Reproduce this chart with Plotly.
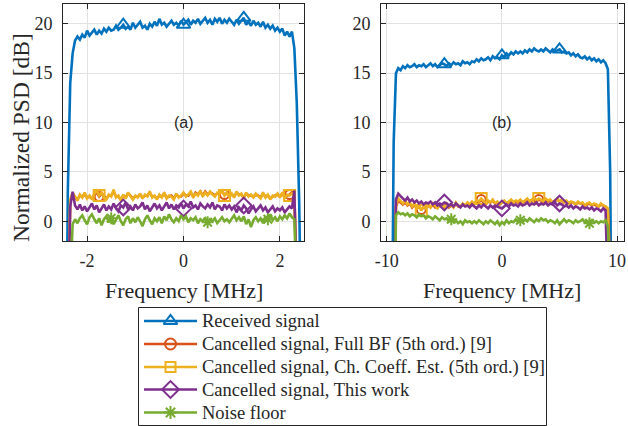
import numpy as np
import plotly.graph_objects as go

# ---------------- data ----------------
freq_a = np.round(np.arange(-2.5, 2.5001, 0.05), 2)   # panel (a) frequency grid [MHz]
freq_b = np.round(np.arange(-10.4, 10.6001, 0.2), 1)  # panel (b) frequency grid [MHz]

recv_a = [-30, -25, 3, 14, 17, 18.3, 18.7, 18.4, 18.9, 18.6,
          19.3, 18.8, 19.1, 19.4, 18.9, 19.3, 19.0, 19.5, 19.2, 19.6,
          19.3, 19.4, 19.8, 19.4, 19.6, 19.9, 19.5, 19.7, 19.4, 20.1,
          19.6, 19.9, 20.2, 19.6, 19.8, 19.4, 20.0, 19.7, 20.2, 19.8,
          20.5, 19.9, 20.1, 19.7, 20.0, 20.3, 19.9, 20.1, 19.8, 20.3,
          19.9, 20.2, 20.4, 19.9, 20.3, 20.1, 20.5, 20.0, 20.3, 20.6,
          20.1, 20.4, 19.9, 20.5, 20.2, 20.6, 20.0, 20.4, 20.1, 20.5,
          20.2, 19.9, 20.4, 20.0, 20.3, 20.6, 19.9, 20.2, 19.8, 20.3,
          19.9, 20.1, 19.7, 20.2, 19.6, 19.9, 19.5, 19.8, 19.3, 19.6,
          19.2, 19.5, 18.8, 19.2, 18.7, 19.2, 17.5, 12, 2, -25,
          -30]
fullbf_a = [-30, -25, -10, 2.0, 2.8, 2.4, 2.2, 2.6, 2.5, 2.7,
            2.4, 2.5, 2.3, 2.7, 2.9, 2.5, 2.8, 2.5, 2.3, 2.6,
            2.6, 3.0, 2.5, 2.5, 2.2, 2.6, 2.4, 2.8, 2.6, 2.3,
            2.5, 2.5, 2.7, 2.4, 2.6, 2.6, 2.9, 2.5, 2.5, 2.3,
            2.6, 2.5, 2.8, 2.4, 2.5, 2.6, 2.3, 2.7, 2.5, 2.5,
            2.8, 2.6, 2.6, 2.9, 2.5, 2.9, 2.7, 3.0, 2.6, 3.0,
            2.7, 2.9, 2.8, 2.6, 2.8, 2.9, 3.0, 2.7, 2.8, 2.6,
            2.7, 2.5, 2.9, 2.7, 2.7, 2.4, 2.8, 2.6, 2.6, 2.5,
            2.7, 2.6, 2.4, 2.8, 2.5, 2.6, 2.3, 2.5, 2.6, 2.7,
            2.5, 2.8, 2.4, 2.6, 2.7, 2.9, 2.6, -8, -25, -30,
            -30]
chcoef_a = [-30, -25, -10, 2.2, 2.9, 2.5, 2.1, 2.7, 2.4, 2.9,
            2.3, 2.6, 2.2, 2.8, 3.1, 2.6, 2.9, 2.4, 2.2, 2.7,
            2.5, 3.2, 2.4, 2.6, 2.1, 2.7, 2.3, 2.9, 2.5, 2.2,
            2.6, 2.4, 2.8, 2.3, 2.7, 2.5, 3.0, 2.4, 2.6, 2.2,
            2.7, 2.4, 2.9, 2.3, 2.6, 2.5, 2.2, 2.8, 2.4, 2.6,
            2.9, 2.5, 2.7, 3.0, 2.4, 2.8, 2.6, 3.1, 2.5, 2.9,
            2.6, 3.0, 2.7, 2.5, 2.9, 2.8, 3.1, 2.6, 2.9, 2.5,
            2.8, 2.4, 3.0, 2.6, 2.8, 2.3, 2.9, 2.5, 2.7, 2.4,
            2.8, 2.5, 2.3, 2.9, 2.4, 2.7, 2.2, 2.6, 2.5, 2.8,
            2.4, 2.9, 2.3, 2.7, 2.6, 2.8, 2.5, -8, -25, -30,
            -30]
thiswork_a = [-30, -25, -10, 1.5, 3.0, 1.6, 1.2, 1.7, 1.1, 1.5,
              1.0, 1.4, 1.8, 1.2, 1.6, 0.9, 1.3, 1.7, 1.1, 1.5,
              1.2, 1.8, 1.3, 1.0, 1.6, 1.4, 1.9, 1.2, 1.5, 1.1,
              1.7, 1.3, 1.5, 1.9, 1.2, 1.6, 1.0, 1.4, 1.8, 1.3,
              1.6, 1.1, 1.5, 1.9, 1.3, 1.7, 1.2, 1.6, 1.4, 1.8,
              1.3, 1.7, 1.5, 2.0, 1.4, 1.6, 1.2, 1.8, 1.5, 1.3,
              1.7, 1.4, 1.9, 1.2, 1.6, 1.5, 1.1, 1.7, 1.3, 1.6,
              1.2, 1.5, 0.9, 1.4, 1.1, 1.6, 1.3, 0.8, 1.2, 1.5,
              1.0, 1.3, 1.6, 1.1, 1.4, 0.9, 1.2, 1.5, 1.0, 1.3,
              1.1, 1.4, 0.9, 1.2, 1.5, 1.3, 3.1, -8, -25, -30,
              -30]
noise_a = [-30, -25, -20, -6, -0.3, 0.2, -0.2, 0.3, 0.6, 0.1,
           -0.3, 0.4, 0.7, 0.2, -0.2, 0.3, -0.4, 0.2, 0.5, -0.1,
           0.3, -0.3, 0.1, 0.6, 0.0, -0.4, 0.2, 0.5, -0.2, 0.3,
           -0.1, 0.4, 0.0, -0.5, 0.2, 0.6, 0.1, -0.3, 0.3, 0.0,
           0.4, -0.2, 0.5, 0.1, 0.7, 0.2, -0.1, 0.3, 0.0, 0.6,
           0.2, 0.5, -0.1, 0.3, 0.1, 0.4, -0.2, 0.2, 0.0, 0.3,
           -0.1, 0.2, 0.0, 0.3, -0.2, 0.1, 0.4, 0.0, 0.2, -0.1,
           0.3, 0.6, 0.1, 0.4, 0.0, 0.5, -0.3, 0.2, -0.6, 0.1,
           0.4, 0.0, 0.3, -0.2, 0.5, 0.2, 0.7, 0.1, 0.4, 0.0,
           0.5, 0.2, 0.6, 0.3, 0.8, 0.4, 0.2, -8, -25, -30,
           -30]

recv_b = [-30, -30, -30, -30, -20, 8, 15.0, 15.5, 15.3, 15.7,
          15.5, 15.8, 15.6, 15.7, 15.9, 15.6, 15.8, 15.7, 15.9, 15.6,
          15.8, 16.0, 15.7, 15.9, 15.6, 15.8, 16.0, 15.9, 15.7, 16.0,
          15.8, 16.1, 15.9, 16.0, 15.8, 16.2, 16.0, 16.1, 15.9, 16.2,
          16.1, 16.4, 16.2, 16.5, 16.3, 16.4, 16.6, 16.3, 16.7, 16.5,
          16.6, 16.4, 16.8, 16.6, 17.0, 16.8, 17.1, 16.9, 17.2, 17.0,
          17.2, 17.0, 17.3, 17.1, 17.4, 17.2, 17.5, 17.3, 17.2, 17.4,
          17.2, 17.5, 17.3, 17.1, 17.4, 17.2, 17.3, 17.4, 17.1, 17.2,
          17.0, 17.1, 16.8, 17.0, 16.7, 16.9, 16.6, 16.5, 16.7, 16.4,
          16.6, 16.3, 16.5, 16.2, 16.4, 16.1, 16.3, 16.0, 15.4, 5,
          -25, -30, -30, -30, -30, -30]
fullbf_b = [-30, -30, -30, -30, -30, -10, 1.5, 2.1, 1.9, 1.7,
            1.9, 1.6, 1.8, 1.4, 1.7, 1.3, 1.5, 1.2, 1.4, 1.3,
            1.6, 1.4, 1.7, 1.4, 1.4, 1.6, 1.5, 1.5, 1.7, 1.4,
            1.6, 1.5, 1.8, 1.5, 1.5, 1.7, 1.6, 1.8, 1.6, 1.9,
            1.7, 2.0, 1.9, 2.2, 1.9, 1.8, 2.0, 1.9, 2.1, 1.8,
            1.9, 1.7, 1.9, 2.0, 1.8, 1.9, 2.1, 1.9, 2.0, 1.9,
            2.1, 1.9, 2.0, 2.2, 2.0, 2.1, 2.3, 2.0, 2.2, 2.1,
            2.0, 2.2, 2.0, 2.1, 1.9, 2.0, 2.2, 2.0, 2.1, 1.9,
            2.0, 1.8, 1.9, 1.9, 1.7, 1.9, 1.8, 1.8, 1.6, 1.7,
            1.8, 1.6, 1.7, 1.6, 1.5, 1.7, 1.6, 1.5, 1.2, -15,
            -30, -30, -30, -30, -30, -30]
chcoef_b = [-30, -30, -30, -30, -30, -10, 1.6, 2.3, 2.0, 1.8,
            2.1, 1.7, 1.9, 1.5, 1.8, 1.2, 1.6, 1.1, 1.5, 1.3,
            1.7, 1.4, 1.8, 1.5, 1.3, 1.7, 1.6, 1.4, 1.8, 1.5,
            1.7, 1.4, 1.9, 1.6, 1.5, 1.8, 1.6, 1.9, 1.7, 2.0,
            1.8, 2.1, 2.0, 2.3, 2.0, 1.8, 2.1, 1.9, 2.2, 1.8,
            2.0, 1.7, 1.9, 2.1, 1.8, 2.0, 2.2, 1.9, 2.1, 2.0,
            2.2, 1.9, 2.1, 2.3, 2.0, 2.2, 2.4, 2.1, 2.3, 2.2,
            2.0, 2.3, 2.1, 2.2, 1.9, 2.1, 2.3, 2.0, 2.2, 1.9,
            2.1, 1.8, 2.0, 1.9, 1.7, 2.0, 1.8, 1.9, 1.6, 1.8,
            1.9, 1.6, 1.8, 1.7, 1.5, 1.8, 1.6, 1.5, 1.3, -15,
            -30, -30, -30, -30, -30, -30]
thiswork_b = [-30, -30, -30, -30, -30, -10, 2.2, 2.8, 2.5, 2.3,
              2.1, 2.4, 2.0, 2.2, 1.9, 2.1, 1.8, 2.0, 1.7, 1.9,
              1.8, 2.0, 1.7, 1.9, 1.6, 1.8, 1.7, 1.9, 1.8, 1.6,
              1.7, 1.5, 1.8, 1.6, 1.4, 1.7, 1.5, 1.6, 1.4, 1.7,
              1.5, 1.3, 1.6, 1.4, 1.7, 1.5, 1.3, 1.6, 1.4, 1.6,
              1.5, 1.4, 1.3, 1.5, 1.7, 1.5, 1.8, 1.6, 1.7, 1.5,
              1.8, 1.6, 1.7, 1.9, 1.6, 1.8, 1.7, 1.9, 1.6, 1.8,
              1.7, 1.9, 1.6, 1.8, 1.7, 1.9, 1.6, 1.8, 1.7, 1.5,
              1.6, 1.4, 1.6, 1.3, 1.5, 1.4, 1.2, 1.5, 1.3, 1.4,
              1.2, 1.4, 1.1, 1.3, 1.2, 1.0, 1.3, 1.1, -3, -15,
              -30, -30, -30, -30, -30, -30]
noise_b = [-30, -30, -30, -30, -30, -15, 0.6, 0.9, 0.7, 0.8,
           0.6, 0.8, 0.5, 0.7, 0.6, 0.4, 0.7, 0.5, 0.6, 0.3,
           0.5, 0.4, 0.2, 0.5, 0.3, 0.1, 0.4, 0.2, 0.3, 0.0,
           0.2, -0.1, 0.1, -0.2, 0.0, -0.3, 0.1, -0.1, 0.0, -0.2,
           0.0, -0.2, 0.1, -0.1, -0.3, 0.0, -0.2, 0.1, -0.1, -0.3,
           0.0, -0.4, -0.1, -0.3, 0.1, -0.2, 0.0, -0.1, 0.2, -0.1,
           0.1, -0.1, 0.2, 0.0, 0.3, 0.1, -0.1, 0.2, 0.0, 0.3,
           0.1, 0.2, -0.1, 0.1, 0.0, -0.2, 0.1, -0.3, 0.0, 0.2,
           -0.1, 0.1, 0.0, -0.2, 0.1, -0.1, 0.0, 0.2, -0.1, 0.0,
           -0.2, 0.1, -0.1, 0.0, -0.2, 0.0, -0.1, 0.1, -0.5, -20,
           -30, -30, -30, -30, -30, -30]

# marker sample indices (MATLAB MarkerIndices)
mk_tri_a = [25, 50, 75]
mk_tri_b = [27, 52, 77]
mk_sq_a = [15, 67, 94]
mk_sq_b = [17, 43, 68]
mk_ast_a = [20, 60, 85]
mk_ast_b = [30, 60, 90]

series_names = ["Received signal",
                "Cancelled signal, Full BF (5th ord.) [9]",
                "Cancelled signal, Ch. Coeff. Est. (5th ord.) [9]",
                "Cancelled signal, This work",
                "Noise floor"]
x_ticks_a = [-2, 0, 2]
x_ticks_b = [-10, 0, 10]
y_ticks = [0, 5, 10, 15, 20]

for arr in (recv_a, fullbf_a, chcoef_a, thiswork_a, noise_a):
    assert len(arr) == len(freq_a)
for arr in (recv_b, fullbf_b, chcoef_b, thiswork_b, noise_b):
    assert len(arr) == len(freq_b)

# ---------------- style ----------------
colors = ["#0072BD", "#D95319", "#EDB120", "#7E2F8E", "#77AC30"]
symbols = ["triangle-up-open", "circle-open", "square-open", "diamond-open", "asterisk-open"]
msizes = [12, 9, 11, 12, 10]
leg_msizes = [12, 11, 10, 13, 11]
LW = 2.6
SERIF = "Liberation Serif"
AX = "#262626"
W, H = 628, 426

data_a = [recv_a, fullbf_a, chcoef_a, thiswork_a, noise_a]
data_b = [recv_b, fullbf_b, chcoef_b, thiswork_b, noise_b]
mk_a = [mk_tri_a, mk_sq_a, mk_sq_a, mk_tri_a, mk_ast_a]
mk_b = [mk_tri_b, mk_sq_b, mk_sq_b, mk_tri_b, mk_ast_b]

fig = go.Figure()
for k in range(5):
    for (fx, ys, mks, xa, ya) in ((freq_a, data_a[k], mk_a[k], "x", "y"),
                                  (freq_b, data_b[k], mk_b[k], "x2", "y2")):
        fig.add_trace(go.Scatter(x=fx, y=ys, mode="lines", xaxis=xa, yaxis=ya,
                                 line=dict(color=colors[k], width=LW),
                                 showlegend=False, hoverinfo="skip"))
        fig.add_trace(go.Scatter(x=[fx[i] for i in mks], y=[ys[i] for i in mks],
                                 mode="markers", xaxis=xa, yaxis=ya,
                                 marker=dict(symbol=symbols[k], size=msizes[k], color=colors[k],
                                             line=dict(color=colors[k], width=2)),
                                 showlegend=False, hoverinfo="skip"))

# ---- legend drawn on an overlay pixel axis (layout, not data) ----
leg_left, leg_top, leg_right, leg_bottom = 138.5, 307.5, 546.5, 425.5
row_y = [321, 344, 367, 389.5, 412.5]
for k in range(5):
    fig.add_trace(go.Scatter(x=[144, 197], y=[row_y[k], row_y[k]], mode="lines",
                             xaxis="x3", yaxis="y3", line=dict(color=colors[k], width=LW),
                             showlegend=False, hoverinfo="skip"))
    fig.add_trace(go.Scatter(x=[170.5], y=[row_y[k]], mode="markers",
                             xaxis="x3", yaxis="y3",
                             marker=dict(symbol=symbols[k], size=leg_msizes[k], color=colors[k],
                                         line=dict(color=colors[k], width=2)),
                             showlegend=False, hoverinfo="skip"))

def px_x(a, b):
    return [a / W, b / W]
ydom = [1 - 241 / H, 1 - 4 / H]

axis_common = dict(showline=True, linecolor=AX, linewidth=1, mirror="ticks",
                   ticks="inside", ticklen=5, tickcolor=AX, tickwidth=1,
                   showgrid=True, gridcolor="#e2e2e2", gridwidth=1, zeroline=False,
                   automargin=False,
                   tickfont=dict(family=SERIF, size=18, color=AX))

fig.update_layout(
    width=W, height=H, margin=dict(l=0, r=0, t=0, b=0, autoexpand=False),
    paper_bgcolor="white", plot_bgcolor="rgba(0,0,0,0)",
    showlegend=False,
    xaxis=dict(domain=px_x(63, 304), range=[-2.5, 2.5], anchor="y", ticklabelstandoff=3,
               tickvals=x_ticks_a, ticktext=[str(v) for v in x_ticks_a], **axis_common),
    yaxis=dict(domain=ydom, range=[-2, 22], anchor="x", ticklabelstandoff=6,
               tickvals=y_ticks, ticktext=[str(v) for v in y_ticks], **axis_common),
    xaxis2=dict(domain=px_x(381, 624), range=[-10.5, 10.6], anchor="y2", ticklabelstandoff=3,
                tickvals=x_ticks_b, ticktext=[str(v) for v in x_ticks_b], **axis_common),
    yaxis2=dict(domain=ydom, range=[-2, 22], anchor="x2", ticklabelstandoff=6,
                tickvals=y_ticks, ticktext=[str(v) for v in y_ticks], **axis_common),
    xaxis3=dict(domain=[0, 1], range=[0, W], anchor="y3", visible=False, fixedrange=True),
    yaxis3=dict(domain=[0, 1], range=[H, 0], anchor="x3", visible=False, fixedrange=True),
)

shapes = [dict(type="rect", xref="paper", yref="paper",
               x0=leg_left / W, x1=leg_right / W, y0=1 - leg_bottom / H, y1=1 - leg_top / H,
               line=dict(color=AX, width=1), fillcolor="white", layer="below")]
fig.update_layout(shapes=shapes)

annos = [
    dict(text="(a)", x=0, y=10, xref="x", yref="y", showarrow=False,
         xanchor="center", yanchor="middle",
         font=dict(family="Liberation Sans", size=16, color=AX)),
    dict(text="(b)", x=0, y=10, xref="x2", yref="y2", showarrow=False,
         xanchor="center", yanchor="middle",
         font=dict(family="Liberation Sans", size=16, color=AX)),
    dict(text="Frequency [MHz]", x=183.5 / W, y=1 - 290 / H, xref="paper", yref="paper",
         xanchor="center", yanchor="middle",
         showarrow=False, font=dict(family=SERIF, size=22, color=AX)),
    dict(text="Frequency [MHz]", x=502 / W, y=1 - 290 / H, xref="paper", yref="paper",
         xanchor="center", yanchor="middle",
         showarrow=False, font=dict(family=SERIF, size=22, color=AX)),
    dict(text="Normalized PSD [dB]", x=21 / W, y=1 - 138 / H, xref="paper", yref="paper",
         xanchor="center", yanchor="middle",
         showarrow=False, textangle=-90, font=dict(family=SERIF, size=23.5, color=AX)),
]
for k in range(5):
    annos.append(dict(text=series_names[k], x=200 / W, y=1 - row_y[k] / H,
                      xref="paper", yref="paper", xanchor="left", yanchor="middle",
                      showarrow=False, font=dict(family=SERIF, size=18.5, color=AX)))
fig.update_layout(annotations=annos)

fig.write_html("out.html", config={"displayModeBar": False, "staticPlot": True},
               post_script="document.body.style.margin='0';document.body.style.overflow='hidden';")
